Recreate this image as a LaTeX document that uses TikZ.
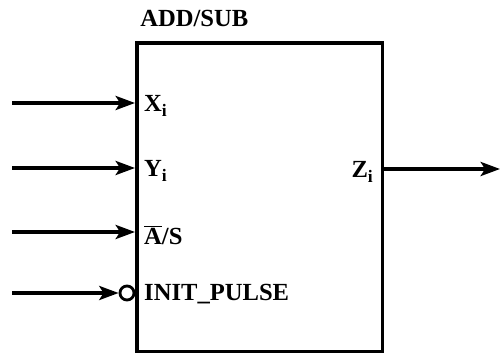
\documentclass[tikz,border=0pt]{standalone}
\usepackage{fontspec}
\setmainfont{Liberation Serif}
\usetikzlibrary{positioning,arrows.meta}
\newcommand{\lowsub}[1]{\raisebox{-0.45ex}{\fontsize{10}{11}\selectfont #1}}

\begin{document}
\begin{tikzpicture}[x=0.02cm, y=-0.02cm,
  every node/.style={font=\bfseries\fontsize{14}{16}\selectfont},
  wire/.style={line width=2pt, -{Stealth[length=11pt, width=8pt, inset=2.5pt]}}]
  \useasboundingbox (0,0) rectangle (500,354);
  \node[draw, line width=2pt, inner sep=0pt, minimum width=4.92cm, minimum height=6.18cm, anchor=north west] (box) at (135,41) {};
  \node[anchor=south west, inner sep=0pt] (name) at (140,27) {ADD/SUB};
  % inputs
  \coordinate (xin) at (12,103);
  \coordinate (yin) at (12,168);
  \coordinate (asin) at (12,232);
  \coordinate (initin) at (12,293);
  \node[draw, circle, line width=1.6pt, inner sep=0pt, minimum size=8pt] (inv) at (127,293) {};
  \draw[wire] (xin) -- (xin -| box.west);
  \draw[wire] (yin) -- (yin -| box.west);
  \draw[wire] (asin) -- (asin -| box.west);
  \draw[wire] (initin) -- (inv.west);
  \node[anchor=west] (xlab) at (138,106) {X\lowsub{i}};
  \node[anchor=west] (ylab) at (138,171) {Y\lowsub{i}};
  \node[anchor=west] (aslab) at (138,235) {$\overline{\hbox{A}}$/S};
  \node[anchor=west] (initlab) at (138,294) {INIT\_PULSE};
  % output
  \coordinate (zout) at (500,169);
  \draw[wire] (zout -| box.east) -- (zout);
  \node[anchor=east] (zlab) at (379,172) {Z\lowsub{i}};
\end{tikzpicture}
\end{document}
